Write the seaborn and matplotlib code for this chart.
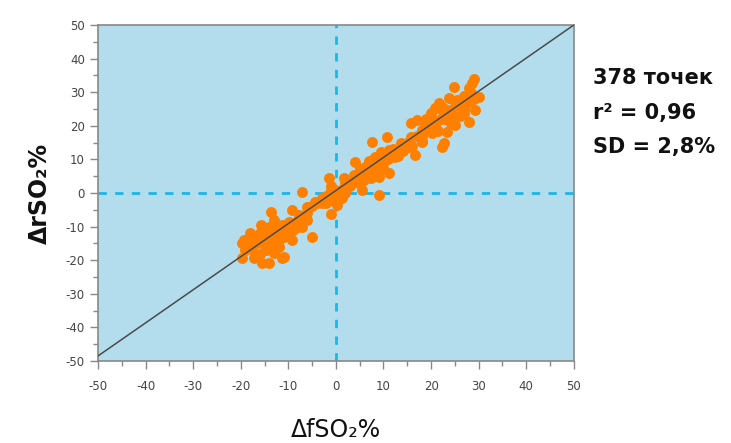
import numpy as np
import pandas as pd
import matplotlib.pyplot as plt
import seaborn as sns
from matplotlib.ticker import MultipleLocator

# values (a subset of the 378 points)
f_so2 = [29.0, 28.6, 27.9, 24.8, 30.0, 28.3, 23.7, 25.5, 21.6, 20.9, 19.9, 22.3, 24.1, 26.9, 29.3,
         27.9, 25.1, 23.4, 18.8, 17.1, 15.7, 18.1, 20.2, 22.3, 22.7, 15.7, 18.1, 16.7, 15.3, 13.6,
         10.8, 7.6, 11.1, 12.5, 9.4, 8.3, 6.9, 4.1, 6.2, 7.6, 9.0, 11.1, 7.3, 5.5, 3.8,
         4.8, 5.5, 9.0, 1.7, -1.5, 2.0, -0.1, 1.3, 0.3, -1.1, -1.5, -2.9, -4.3, -6.0, -7.1,
         -9.2, -7.8, -6.0, -7.1, -5.0, -13.7, -9.9, -11.3, -12.7, -15.8, -14.4, -12.7, -10.6, -9.2, -16.9,
         -19.3, -19.7, -19.0, -16.5, -14.0, -11.9, -14.7, -19.7, -17.2, -15.5, -14.1, -11.3, -10.9, -13.0,
         -18.0, -17.0, -16.0, -15.0, -14.0, -13.0, -12.0, -11.0, -10.0, -9.0, -8.0, -13.0, -15.0, -16.0,
         -17.0, -12.0, -11.0, -10.0, -14.0, -18.0, -13.0, -9.0, -8.0, -7.0, -6.0, -5.0, -4.0, -3.0,
         -2.0, -1.0, 0.0, 1.0, -1.0, 2.0, 3.0, 4.0, 5.0, 6.0, 6.0, 7.0, 8.0, 9.0, 10.0,
         8.0, 11.0, 12.0, 13.0, 14.0, 15.0, 16.0, 17.0, 18.0, 19.0, 20.0, 21.0, 22.0, 23.0, 24.0,
         25.0, 26.0, 27.0, 28.0, 29.0, 21.0, 23.0, 25.0, 20.0, 26.0, 24.0, 19.0, 27.0, 22.0, -1.0,
         1.0, 2.0, -2.0, 0.0, 3.0, -16.5, -15.0, -12.5, -11.5, -17.5, 12.0, 14.0, 10.0, 6.5, 26.5,
         8.5, 10.0, 5.0, 7.0, 18.0, 21.5, 24.5, 27.0]
r_so2 = [33.8, 32.6, 31.2, 31.6, 28.7, 29.7, 28.2, 27.7, 26.7, 25.2, 23.7, 24.7, 24.7, 24.7, 24.7,
         21.2, 20.2, 18.3, 20.7, 21.7, 20.7, 18.8, 17.8, 13.8, 14.8, 16.8, 15.3, 11.3, 13.8, 14.8,
         16.8, 15.3, 12.8, 10.8, 12.3, 10.8, 9.3, 9.3, 7.8, 6.8, 4.9, 6.1, 4.4, 5.9, 5.4,
         2.9, 0.9, -0.6, 4.4, 4.4, 1.9, 0.9, -1.6, -3.6, -6.1, -2.1, -1.6, -2.6, -4.1, 0.4,
         -5.1, -6.5, -8.0, -10.0, -13.0, -5.6, -8.5, -9.5, -9.0, -9.5, -11.0, -11.5, -12.5, -14.0, -13.0,
         -14.0, -15.0, -17.0, -15.0, -15.0, -16.0, -17.0, -19.4, -19.4, -20.9, -20.9, -19.4, -18.9, -17.9,
         -16.0, -14.0, -12.0, -13.0, -12.0, -13.0, -14.0, -11.0, -10.0, -9.0, -8.0, -16.0, -17.0, -18.0,
         -18.0, -10.0, -13.0, -12.0, -10.0, -12.0, -8.0, -11.0, -10.0, -7.0, -6.0, -4.0, -3.0, -3.0,
         -1.0, -2.0, 0.0, 1.0, 1.0, 3.0, 2.0, 4.0, 5.0, 6.0, 4.0, 7.0, 8.0, 7.0, 9.0,
         10.0, 10.0, 12.0, 11.0, 14.0, 15.0, 14.0, 17.0, 17.0, 19.0, 20.0, 21.0, 22.0, 22.0, 24.0,
         23.0, 26.0, 25.0, 27.0, 28.0, 19.0, 25.0, 27.0, 23.0, 23.0, 21.0, 22.0, 29.0, 26.0, 2.0,
         -1.0, 0.0, -3.0, -2.0, 4.0, -13.5, -14.5, -15.0, -12.0, -15.5, 13.0, 12.5, 11.0, 8.0, 26.0,
         6.0, 7.5, 7.0, 9.5, 15.5, 18.5, 22.0, 23.5]
stats_text = ["378 точек", "r² = 0,96", "SD = 2,8%"]

df = pd.DataFrame({"f": f_so2, "r": r_so2})

sns.set_style("white")
plt.rcParams['font.family'] = ['DejaVu Sans']
plt.rcParams['axes.unicode_minus'] = False

fig = plt.figure(figsize=(7.31, 4.43), dpi=100)
ax = fig.add_axes([0.134, 0.185, 0.651, 0.7586])
ax.set_facecolor('#b3ddec')

ax.axhline(0, color='#1fb5e6', lw=2, ls=(0, (3, 3)), zorder=1)
ax.axvline(0, color='#1fb5e6', lw=2, ls=(0, (3, 3)), zorder=1)
sns.scatterplot(data=df, x="f", y="r", ax=ax, color='#ff8000', s=62, linewidth=0, zorder=2)
ax.plot([-50, 50], [-48.5, 50], color='#4a4a4a', lw=1.1, zorder=3)

ax.set_xlim(-50, 50)
ax.set_ylim(-50, 50)
ax.xaxis.set_major_locator(MultipleLocator(10))
ax.yaxis.set_major_locator(MultipleLocator(10))
ax.xaxis.set_minor_locator(MultipleLocator(5))
ax.yaxis.set_minor_locator(MultipleLocator(5))
ax.tick_params(which='major', direction='out', length=6, width=1, color='#888888',
               labelsize=8.5, labelcolor='#444444', bottom=True, left=True)
ax.tick_params(which='minor', direction='out', length=3.5, width=1, color='#888888',
               bottom=True, left=True)
ax.tick_params(axis='x', pad=8)
for sp in ax.spines.values():
    sp.set_color('#888888')
    sp.set_linewidth(1.2)

ax.set_xlabel("ΔfSO₂%", fontsize=17, color='#111111', labelpad=18)
ax.set_ylabel("ΔrSO₂%", fontsize=17, fontweight='bold', color='#111111', labelpad=10)

for i, t in enumerate(stats_text):
    fig.text(0.811, 0.823 - i * 0.077, t, fontsize=15, fontweight='bold',
             family=['DejaVu Sans'], color='#111111', va='center')

fig.savefig("out.png", dpi=100)
